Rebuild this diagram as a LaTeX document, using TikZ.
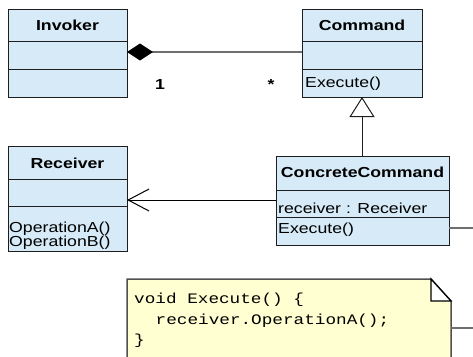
\documentclass[tikz,border=0pt]{standalone}
\usepackage{fontspec}
\setmainfont{Liberation Sans}[FakeStretch=1.22]
\setmonofont{Liberation Mono}[FakeStretch=1.22]
\usetikzlibrary{arrows.meta}
\definecolor{boxblue}{RGB}{214,235,247}
\definecolor{noteyel}{RGB}{255,255,210}
\definecolor{linec}{RGB}{30,30,30}
\definecolor{assoc}{RGB}{110,110,110}
\definecolor{noteline}{RGB}{80,80,80}
\tikzset{
  cbox/.style={draw=linec, fill=boxblue, line width=1pt, inner sep=0pt, outer sep=0pt, anchor=north west},
  ttl/.style={font=\bfseries, inner sep=0pt, anchor=base},
  mem/.style={inner sep=0pt, anchor=base west},
  code/.style={font=\ttfamily, inner sep=0pt, anchor=base west},
  mult/.style={font=\bfseries, inner sep=0pt, anchor=base},
}
\begin{document}
\begin{tikzpicture}[x=1pt,y=-1pt]
\fontsize{14.5}{14}\selectfont
\useasboundingbox (0,0) rectangle (473,356);
\clip (0,0) rectangle (473,356);
% helper coordinates
\coordinate (y52) at (0,52);
\coordinate (y200) at (0,200);
\coordinate (y228) at (0,228);
\coordinate (y328) at (0,328);
\coordinate (r1) at (485,228);
\coordinate (r2) at (485,328);
% Invoker
\node[cbox, minimum width=119pt, minimum height=32pt] (invT) at (8,9) {};
\node[cbox, minimum width=119pt, minimum height=28pt] (invA) at (invT.south west) {};
\node[cbox, minimum width=119pt, minimum height=28pt] (invO) at (invA.south west) {};
\node[ttl] (invL) at (67.5,30) {Invoker};
% Command
\node[cbox, minimum width=120pt, minimum height=32pt] (cmdT) at (302,9) {};
\node[cbox, minimum width=120pt, minimum height=28pt] (cmdA) at (cmdT.south west) {};
\node[cbox, minimum width=120pt, minimum height=28pt] (cmdO) at (cmdA.south west) {};
\node[ttl] (cmdL) at (362,30) {Command};
\node[mem] (cmdE) at (305,87) {Execute()};
% Receiver
\node[cbox, minimum width=119pt, minimum height=33pt] (recT) at (8,146) {};
\node[cbox, minimum width=119pt, minimum height=27pt] (recA) at (recT.south west) {};
\node[cbox, minimum width=119pt, minimum height=45pt] (recO) at (recA.south west) {};
\node[ttl] (recL) at (67.5,168) {Receiver};
\node[mem] (recOA) at (9,232.5) {OperationA()};
\node[mem] (recOB) at (9,246.5) {OperationB()};
% ConcreteCommand
\node[cbox, minimum width=173pt, minimum height=34pt] (ccT) at (276,156) {};
\node[cbox, minimum width=173pt, minimum height=27pt] (ccA) at (ccT.south west) {};
\node[cbox, minimum width=173pt, minimum height=28pt] (ccO) at (ccA.south west) {};
\node[ttl] (ccL) at (362.5,177) {ConcreteCommand};
\node[mem] (ccR) at (278,213) {receiver : Receiver};
\node[mem] (ccE) at (278,233) {Execute()};
% multiplicities
\node[mult] (m1) at (160,89) {1};
\node[mult] (m2) at (271,89) {*};
% connectors
\draw[assoc, line width=1.3pt, -{Diamond[length=26pt,width=17pt,color=black]}] (cmdA.west |- y52) -- (invA.east |- y52);
\draw[linec, line width=1pt, -{Triangle[open,length=20pt,width=25pt,fill=white]}] (ccT.north -| cmdO.south) -- (cmdO.south);
\draw[black, line width=1pt, -{Straight Barb[length=21pt,width=22pt]}] (ccA.west |- y200) -- (recA.east |- y200);
% note
\node[inner sep=0pt, outer sep=0pt, minimum width=324pt, minimum height=90pt, anchor=north west] (note) at (127,279) {};
\filldraw[fill=noteyel, draw=noteline, line width=1.5pt] (127,279) -- (431,279) -- (451,301) -- (451,380) -- (127,380) -- cycle;
\filldraw[fill=white, draw=black, line width=1.3pt] (431,279) -- (431,301) -- (451,301) -- cycle;
\node[code] (c1) at (134,303) {void Execute() \{};
\node[code] (c2) at (155.5,324) {receiver.OperationA();};
\node[code] (c3) at (134,344) {\}};
\draw[assoc, line width=1.3pt] (ccO.east |- y228) -- (r1) -- (r2) -- (note.east |- y328);
\end{tikzpicture}
\end{document}
